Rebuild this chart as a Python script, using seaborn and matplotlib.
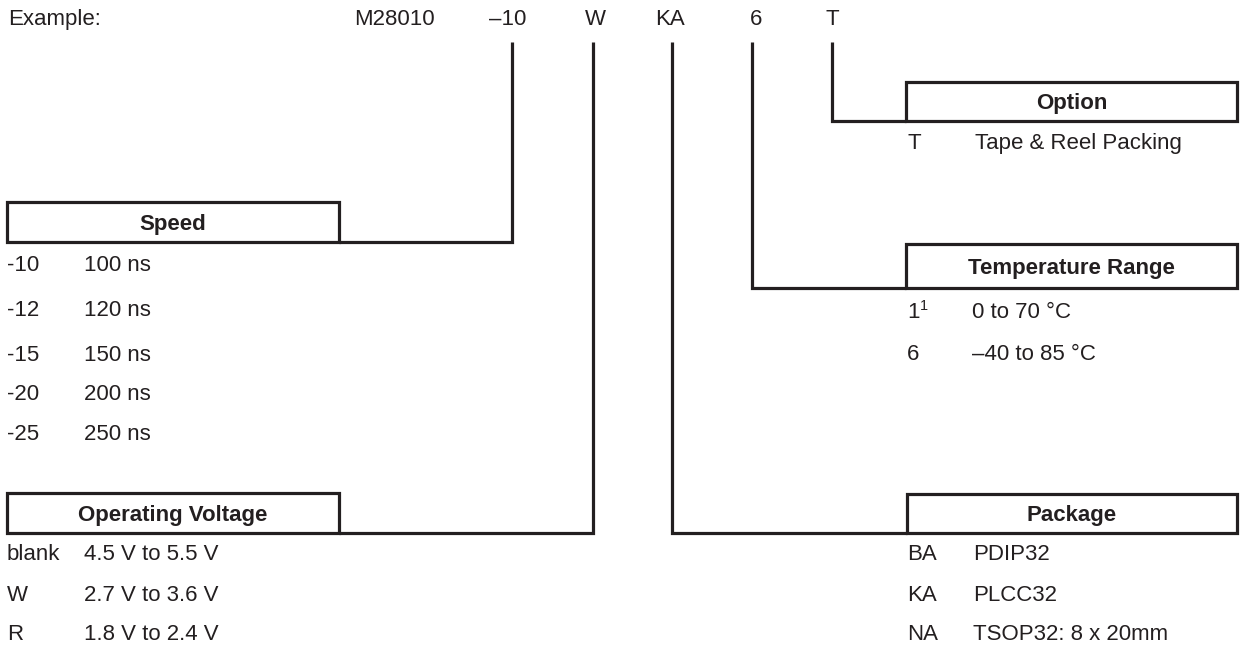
import matplotlib.pyplot as plt
import matplotlib.patches as mpatches
import seaborn as sns

# Ordering scheme text, one small list per field
example_parts = ["M28010", "–10", "W", "KA", "6", "T"]

speed_codes = ["-10", "-12", "-15", "-20", "-25"]
speed_values = ["100 ns", "120 ns", "150 ns", "200 ns", "250 ns"]

voltage_codes = ["blank", "W", "R"]
voltage_values = ["4.5 V to 5.5 V", "2.7 V to 3.6 V", "1.8 V to 2.4 V"]

package_codes = ["BA", "KA", "NA"]
package_values = ["PDIP32", "PLCC32", "TSOP32: 8 x 20mm"]

temp_codes = ["1", "6"]
temp_notes = ["1", ""]
temp_values = ["0 to 70 °C", "–40 to 85 °C"]

option_codes = ["T"]
option_values = ["Tape & Reel Packing"]

# Layout (pixel space, y grows downward)
INK = "#231f20"
FS = 16
LW = 2.3
TAP_TOP = 42
part_x = [354, 508, 595, 670, 756, 832]   # first is left-aligned, rest centred

fields = [
    # title, (x0, y0, x1, y1) box, tap x, connect side, codes, values, row baselines, code x, value x
    dict(title="Speed", box=(7, 202, 339, 242), tap=512, side="right",
         codes=speed_codes, values=speed_values,
         rows=[271, 316, 361, 400, 440], cx=7, vx=84),
    dict(title="Operating Voltage", box=(7, 493, 339, 533), tap=593, side="right",
         codes=voltage_codes, values=voltage_values,
         rows=[560, 601, 640], cx=7, vx=84),
    dict(title="Package", box=(907, 494, 1237, 533), tap=672, side="left",
         codes=package_codes, values=package_values,
         rows=[560, 601, 640], cx=907, vx=973),
    dict(title="Temperature Range", box=(906, 244, 1237, 288), tap=752, side="left",
         codes=temp_codes, values=temp_values,
         rows=[318, 360], cx=907, vx=972),
    dict(title="Option", box=(906, 82, 1237, 121), tap=832, side="left",
         codes=option_codes, values=option_values,
         rows=[149], cx=907, vx=975),
]

sns.set_theme(style="white")
plt.rcParams["font.family"] = ["Liberation Sans", "DejaVu Sans"]

fig = plt.figure(figsize=(12.42, 6.46), dpi=100)
ax = fig.add_axes([0, 0, 1, 1])
ax.set_xlim(0, 1242)
ax.set_ylim(646, 0)
ax.axis("off")

# 1. Example part number line
ax.text(8, 25, "Example:", fontsize=FS, color=INK, va="baseline", ha="left")
for i, (part, x) in enumerate(zip(example_parts, part_x)):
    ax.text(x, 25, part, fontsize=FS, color=INK, va="baseline",
            ha="left" if i == 0 else "center")

# 2. Field boxes, connectors and their code tables
for f in fields:
    x0, y0, x1, y1 = f["box"]
    ax.add_patch(mpatches.Rectangle((x0, y0), x1 - x0, y1 - y0, fill=False,
                                    edgecolor=INK, linewidth=LW, joinstyle="miter"))
    ax.text((x0 + x1) / 2, y0 + (y1 - y0) / 2 + 8, f["title"], fontsize=FS,
            fontweight="bold", color=INK, ha="center", va="baseline")

    edge = x1 if f["side"] == "right" else x0
    ax.plot([edge, f["tap"], f["tap"]], [y1, y1, TAP_TOP], color=INK,
            linewidth=LW, solid_joinstyle="miter", solid_capstyle="butt")

    for code, value, y in zip(f["codes"], f["values"], f["rows"]):
        ax.text(f["cx"], y, code, fontsize=FS, color=INK, ha="left", va="baseline")
        ax.text(f["vx"], y, value, fontsize=FS, color=INK, ha="left", va="baseline")

# footnote marker on the temperature code
for note, y in zip(temp_notes, fields[3]["rows"]):
    if note:
        ax.text(920, y - 8, note, fontsize=FS * 0.65, color=INK, ha="left", va="baseline")

plt.savefig("out.png", dpi=100)
